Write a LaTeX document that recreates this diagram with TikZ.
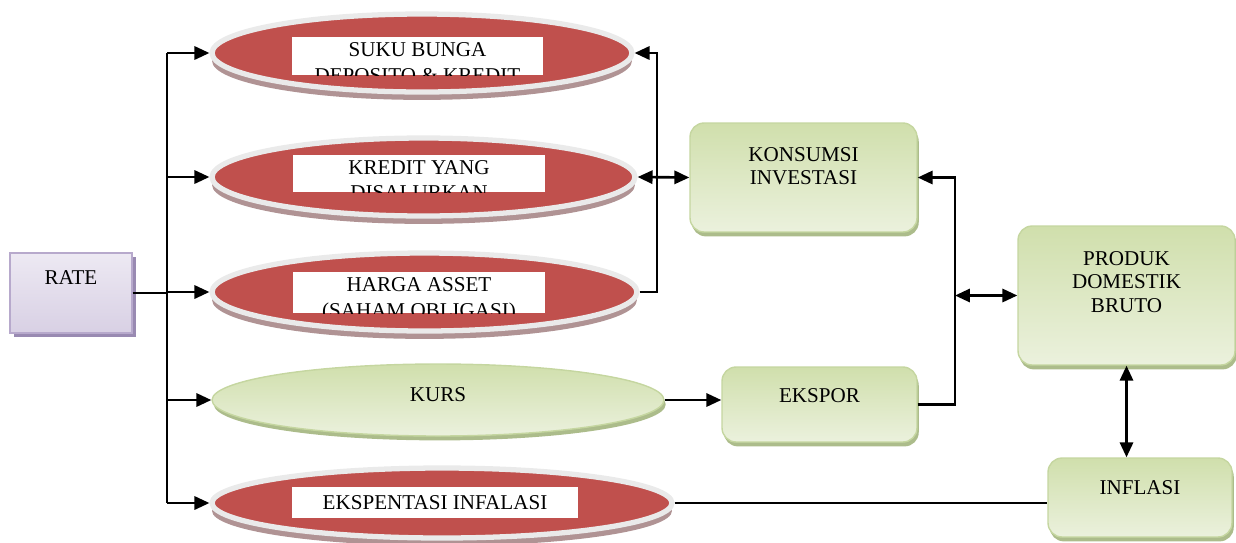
\documentclass[tikz,border=0pt]{standalone}
\usepackage{fontspec}
\setmainfont{Liberation Serif}
\usepackage{xcolor}
\usepackage{tikz}
\usetikzlibrary{shapes.geometric,arrows.meta,shadows}

\definecolor{redfill}{HTML}{C0504D}
\definecolor{rimgray}{HTML}{EAEAEA}
\definecolor{redshadow}{HTML}{B09394}
\definecolor{greentop}{HTML}{D0DFAC}
\definecolor{greenbot}{HTML}{EBF1DD}
\definecolor{greenline}{HTML}{C5D6A0}
\definecolor{greenshadow}{HTML}{A3B57E}
\definecolor{lilactop}{HTML}{EDE9F3}
\definecolor{lilacbot}{HTML}{D8D0E4}
\definecolor{lilacline}{HTML}{B7A9CC}
\definecolor{lilacshadow}{HTML}{8E7DAA}

\begin{document}
\begin{tikzpicture}[x=0.02cm, y=-0.02cm, font=\fontsize{12}{13.5}\selectfont,
	link/.style={line width=1.5pt},
	arr/.style={link, -{Triangle[length=8.5pt,width=7.5pt]}},
	dblarr/.style={link, {Triangle[length=8.5pt,width=7.5pt]}-{Triangle[length=8.5pt,width=7.5pt]}},
	greenbox/.style={rectangle, rounded corners=8pt, draw=greenline, line width=0.8pt, top color=greentop, bottom color=greenbot, align=center,
		drop shadow={shadow xshift=1pt, shadow yshift=-2.5pt, fill=greenshadow, opacity=0.9}},
	greenell/.style={ellipse, draw=greenline, line width=0.8pt, top color=greentop, bottom color=greenbot, inner sep=0pt,
		drop shadow={shadow xshift=1pt, shadow yshift=-2.5pt, fill=greenshadow, opacity=0.9}},
	lilacbox/.style={rectangle, draw=lilacline, line width=0.8pt, top color=lilactop, bottom color=lilacbot,
		drop shadow={shadow xshift=2pt, shadow yshift=-2pt, fill=lilacshadow, opacity=0.9}},
	redell/.style={ellipse, draw=rimgray, line width=3pt, fill=redfill, inner sep=0pt,
		drop shadow={shadow xshift=0pt, shadow yshift=-4.5pt, fill=redshadow, opacity=1}},
	whitebox/.style={rectangle, fill=white, inner sep=0pt},
	cut/.style n args={5}{path picture={
		\node[anchor=base] (#1a) at ([yshift=-#2]path picture bounding box.north) {#4};
		\node[anchor=base] (#1b) at ([yshift=-#3]path picture bounding box.north) {#5};}}]
	\useasboundingbox (0,0) rectangle (1236,542);
	
	% left side
	\node[lilacbox, minimum width=2.44cm, minimum height=1.6cm, text depth=0.62cm] (rate) at (71,293) {RATE};
	
	\node[redell, minimum width=8.4cm, minimum height=1.56cm] (suku) at (422,53) {};
	\node[whitebox, minimum width=5.02cm, minimum height=0.76cm, cut={suku}{0.39cm}{0.9cm}{SUKU BUNGA}{DEPOSITO \& KREDIT}] (sukubox) at (417.5,56) {};
	
	\node[redell, minimum width=8.46cm, minimum height=1.56cm] (kredit) at (423.5,177) {};
	\node[whitebox, minimum width=5.04cm, minimum height=0.74cm, cut={kredit}{0.38cm}{0.89cm}{KREDIT YANG}{DISALURKAN}] (kreditbox) at (419,173.5) {};
	
	\node[redell, minimum width=8.5cm, minimum height=1.56cm] (harga) at (424.5,292) {};
	\node[whitebox, minimum width=5.04cm, minimum height=0.82cm, cut={harga}{0.38cm}{0.9cm}{HARGA ASSET}{(SAHAM OBLIGASI)}] (hargabox) at (419,292.5) {};
	
	\node[greenell, minimum width=9.04cm, minimum height=1.44cm, text depth=0.2cm] (kurs) at (438,400) {KURS};
	
	\node[redell, minimum width=9.2cm, minimum height=1.4cm] (ekspek) at (442,503) {};
	\node[whitebox, minimum width=5.72cm, minimum height=0.62cm] (ekspekbox) at (435,502.5) {EKSPENTASI INFALASI};
	
	% right side
	\node[greenbox, minimum width=4.54cm, minimum height=2.18cm, text depth=0.46cm] (konsumsi) at (803.5,177.5) {KONSUMSI\\INVESTASI};
	\node[greenbox, minimum width=3.9cm, minimum height=1.5cm, text depth=0.34cm] (ekspor) at (819.5,404.5) {EKSPOR};
	\node[greenbox, minimum width=4.34cm, minimum height=2.78cm, text depth=0.54cm] (pdb) at (1126.5,295.5) {PRODUK\\DOMESTIK\\BRUTO};
	\node[greenbox, minimum width=3.68cm, minimum height=1.58cm, text depth=0.38cm] (inflasi) at (1140,497.5) {INFLASI};
	
	\coordinate (trunk) at (167,0);
	\coordinate (bracket) at (657,0);
	\coordinate (joint) at (955,0);
	
	\draw[link] (suku.west -| trunk) -- (ekspek.west -| trunk);
	\draw[link] (rate.east) -- (rate.east -| trunk);
	\foreach \e in {suku,kredit,harga,kurs,ekspek}{
		\draw[arr] (\e.west -| trunk) -- (\e.west);
	}
	
	\draw[arr] (harga.east) -- (harga.east -| bracket) -- (suku.east -| bracket) -- (suku.east);
	\draw[dblarr] (kredit.east) -- (konsumsi.west);
	\draw[arr] (kurs.east) -- (kurs.east -| ekspor.west);
	\draw[arr] (ekspor.east) -- (ekspor.east -| joint) -- (konsumsi.east -| joint) -- (konsumsi.east);
	\draw[dblarr] (pdb.west -| joint) -- (pdb.west);
	\draw[dblarr] (pdb.south) -- (pdb.south |- inflasi.north);
	\draw[link] (ekspek.east) -- (ekspek.east -| inflasi.west);
\end{tikzpicture}
\end{document}
